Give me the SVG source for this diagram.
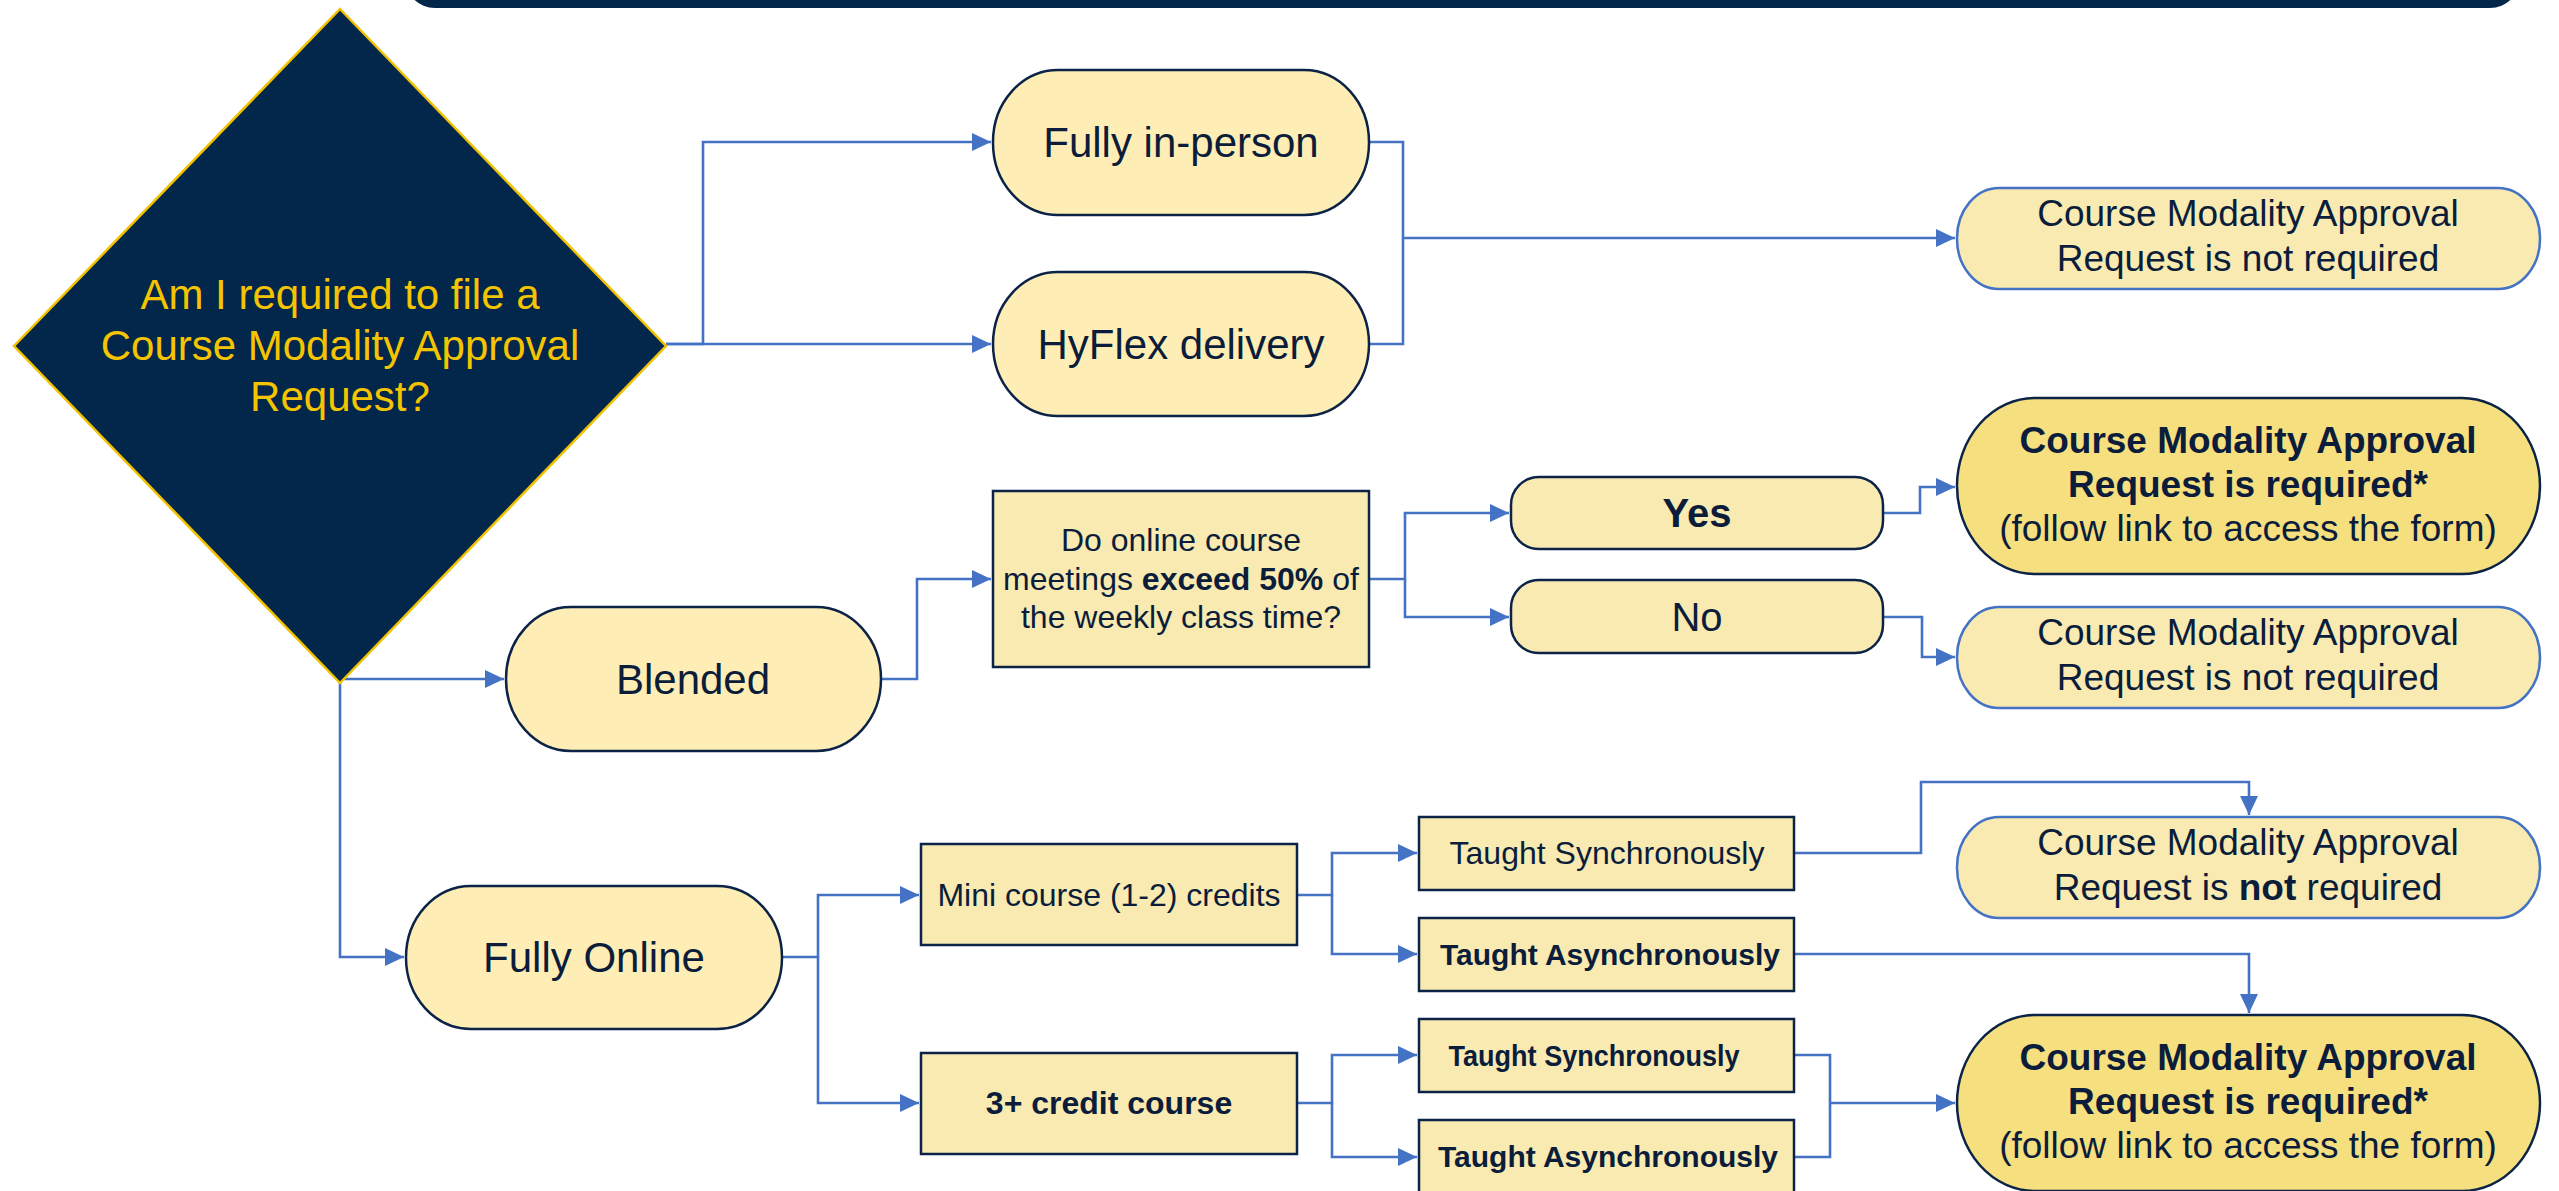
<svg xmlns="http://www.w3.org/2000/svg" width="2559" height="1191" viewBox="0 0 2559 1191">
<defs>
<style>
text{font-family:"Liberation Sans",Arial,sans-serif;fill:#0B1D3A;text-anchor:middle}
.b{font-weight:bold}
.term{fill:#FEEDB4;stroke:#0B2347;stroke-width:2.5}
.box{fill:#F8EAB1;stroke:#0B2347;stroke-width:2.5}
.nr{fill:#F8EAB1;stroke:#4472C4;stroke-width:2.5}
.req{fill:#F6DF7F;stroke:#0B2347;stroke-width:2.5}
.conn path{fill:none;stroke:#4472C4;stroke-width:2.6}
.f42{font-size:42px}.f40{font-size:40px}.f37{font-size:37px}.f32{font-size:32px}.f30{font-size:30px}
</style>
<marker id="arr" markerUnits="userSpaceOnUse" markerWidth="20" markerHeight="20" viewBox="0 0 20 20" refX="19" refY="10" orient="auto">
<path d="M0,1 L19,10 L0,19 z" fill="#4472C4"/>
</marker>
</defs>
<rect width="2559" height="1191" fill="#FFFFFF"/>
<rect id="topbar" x="405" y="-60" width="2115" height="68" rx="30" fill="#03274B"/>

<g class="conn">
<path d="M666,344 H703 V142 H991" marker-end="url(#arr)"/>
<path d="M666,344 H991" marker-end="url(#arr)"/>
<path d="M1369,142 H1403 V344 H1369"/>
<path d="M1403,238 H1955" marker-end="url(#arr)"/>
<path d="M340,679 H504" marker-end="url(#arr)"/>
<path d="M340,679 V957 H404" marker-end="url(#arr)"/>
<path d="M881,679 H917 V579 H991" marker-end="url(#arr)"/>
<path d="M1369,579 H1405 V513 H1509" marker-end="url(#arr)"/>
<path d="M1405,579 V617 H1509" marker-end="url(#arr)"/>
<path d="M1883,513 H1920 V487 H1955" marker-end="url(#arr)"/>
<path d="M1883,617 H1922 V657 H1955" marker-end="url(#arr)"/>
<path d="M782,957 H818 V895 H919" marker-end="url(#arr)"/>
<path d="M818,957 V1103 H919" marker-end="url(#arr)"/>
<path d="M1297,895 H1332 V853 H1417" marker-end="url(#arr)"/>
<path d="M1332,895 V954 H1417" marker-end="url(#arr)"/>
<path d="M1794,853 H1921 V782 H2249 V815" marker-end="url(#arr)"/>
<path d="M1794,954 H2249 V1013" marker-end="url(#arr)"/>
<path d="M1297,1103 H1332 V1055 H1417" marker-end="url(#arr)"/>
<path d="M1332,1103 V1157 H1417" marker-end="url(#arr)"/>
<path d="M1794,1055 H1830 V1157 H1794"/>
<path d="M1830,1103 H1955" marker-end="url(#arr)"/>
</g>

<g id="start">
<polygon points="340,9 666,346 340,683 14,346" fill="#03274B" stroke="#F2C200" stroke-width="2.5"/>
<text class="f42" x="340" y="309" style="fill:#F5C400">Am I required to file a</text>
<text class="f42" x="340" y="360" style="fill:#F5C400">Course Modality Approval</text>
<text class="f42" x="340" y="411" style="fill:#F5C400">Request?</text>
</g>

<g id="inperson">
<rect class="term" x="993" y="70" width="376" height="145" rx="65" ry="72"/>
<text class="f42" x="1181" y="157">Fully in-person</text>
</g>
<g id="hyflex">
<rect class="term" x="993" y="272" width="376" height="144" rx="65" ry="72"/>
<text class="f42" x="1181" y="359">HyFlex delivery</text>
</g>
<g id="notreq1">
<rect class="nr" x="1957" y="188" width="583" height="101" rx="42" ry="50"/>
<text class="f37" x="2248" y="226">Course Modality Approval</text>
<text class="f37" x="2248" y="271">Request is not required</text>
</g>

<g id="blended">
<rect class="term" x="506" y="607" width="375" height="144" rx="65" ry="72"/>
<text class="f42" x="693" y="694">Blended</text>
</g>
<g id="question">
<rect class="box" x="993" y="491" width="376" height="176"/>
<text class="f32" x="1181" y="551">Do online course</text>
<text class="f32" x="1181" y="590">meetings <tspan class="b">exceed 50%</tspan> of</text>
<text class="f32" x="1181" y="628">the weekly class time?</text>
</g>
<g id="yes">
<rect class="box" x="1511" y="477" width="372" height="72" rx="28"/>
<text class="f40 b" x="1697" y="527">Yes</text>
</g>
<g id="no">
<rect class="box" x="1511" y="580" width="372" height="73" rx="28"/>
<text class="f40" x="1697" y="631">No</text>
</g>
<g id="req1">
<rect class="req" x="1957" y="398" width="583" height="176" rx="78" ry="88"/>
<text class="f37 b" x="2248" y="453">Course Modality Approval</text>
<text class="f37 b" x="2248" y="497">Request is required*</text>
<text class="f37" x="2248" y="541">(follow link to access the form)</text>
</g>
<g id="notreq2">
<rect class="nr" x="1957" y="607" width="583" height="101" rx="42" ry="50"/>
<text class="f37" x="2248" y="645">Course Modality Approval</text>
<text class="f37" x="2248" y="690">Request is not required</text>
</g>

<g id="online">
<rect class="term" x="406" y="886" width="376" height="143" rx="65" ry="72"/>
<text class="f42" x="594" y="972">Fully Online</text>
</g>
<g id="mini">
<rect class="box" x="921" y="844" width="376" height="101"/>
<text class="f32" x="1109" y="906">Mini course (1-2) credits</text>
</g>
<g id="three">
<rect class="box" x="921" y="1053" width="376" height="101"/>
<text class="f32 b" x="1109" y="1114">3+ credit course</text>
</g>
<g id="sync1">
<rect class="box" x="1419" y="817" width="375" height="73"/>
<text class="f32" x="1607" y="864">Taught Synchronously</text>
</g>
<g id="async1">
<rect class="box" x="1419" y="918" width="375" height="73"/>
<text class="f30 b" x="1610" y="965">Taught Asynchronously</text>
</g>
<g id="sync2">
<rect class="box" x="1419" y="1019" width="375" height="73"/>
<text class="f30 b" x="1594" y="1066" textLength="291" lengthAdjust="spacingAndGlyphs">Taught Synchronously</text>
</g>
<g id="async2">
<rect class="box" x="1419" y="1120" width="375" height="73"/>
<text class="f30 b" x="1608" y="1167">Taught Asynchronously</text>
</g>
<g id="notreq3">
<rect class="nr" x="1957" y="817" width="583" height="101" rx="42" ry="50"/>
<text class="f37" x="2248" y="855">Course Modality Approval</text>
<text class="f37" x="2248" y="900">Request is <tspan class="b">not</tspan> required</text>
</g>
<g id="req2">
<rect class="req" x="1957" y="1015" width="583" height="176" rx="78" ry="88"/>
<text class="f37 b" x="2248" y="1070">Course Modality Approval</text>
<text class="f37 b" x="2248" y="1114">Request is required*</text>
<text class="f37" x="2248" y="1158">(follow link to access the form)</text>
</g>
</svg>
